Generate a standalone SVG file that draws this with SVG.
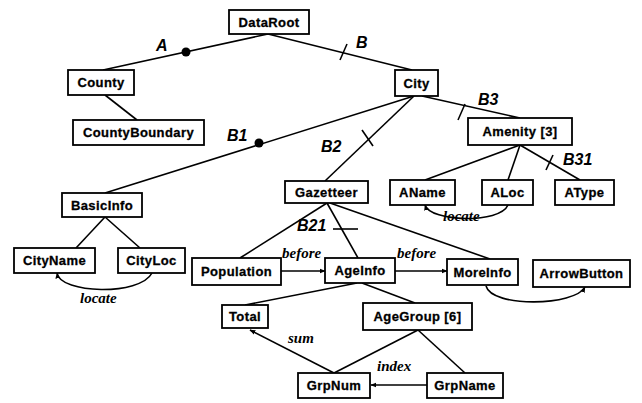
<svg xmlns="http://www.w3.org/2000/svg" width="642" height="403" viewBox="0 0 642 403">
<style>
.box{fill:#fff;stroke:#000;stroke-width:1.8}
.nt{font-family:"Liberation Sans",Arial,sans-serif;font-weight:bold;font-size:13px;letter-spacing:0.4px;text-anchor:middle;fill:#000;stroke:#000;stroke-width:0.3}
.ln{fill:none;stroke:#000;stroke-width:1.6}
.lbl{font-family:"Liberation Sans",Arial,sans-serif;font-weight:bold;font-style:italic;font-size:16px;fill:#000}
.rel{font-family:"Liberation Serif","Times New Roman",serif;font-weight:bold;font-style:italic;font-size:15px;fill:#000}
</style>
<defs>
<marker id="ah" viewBox="0 0 10 10" refX="9" refY="5" markerWidth="6" markerHeight="6" orient="auto-start-reverse" markerUnits="userSpaceOnUse">
<path d="M0,1 L10,5 L0,9 z" fill="#000"/>
</marker>
</defs>
<rect width="642" height="403" fill="#fff"/>
<g id="connectors">
<line class="ln" x1="268" y1="34" x2="103" y2="70"/>
<circle cx="186" cy="52" r="4.5" fill="#000"/>
<line class="ln" x1="268" y1="34" x2="412" y2="70"/>
<line class="ln" x1="340" y1="60" x2="347" y2="44"/>
<line class="ln" x1="105" y1="95" x2="137" y2="120"/>
<line class="ln" x1="414" y1="96" x2="105" y2="193"/>
<circle cx="259" cy="143" r="4.5" fill="#000"/>
<line class="ln" x1="414" y1="96" x2="325" y2="181"/>
<line class="ln" x1="362" y1="130" x2="373" y2="146"/>
<line class="ln" x1="422" y1="96" x2="520" y2="118"/>
<line class="ln" x1="458" y1="120" x2="465" y2="104"/>
<line class="ln" x1="520" y1="145" x2="425" y2="180"/>
<line class="ln" x1="520" y1="145" x2="508" y2="180"/>
<line class="ln" x1="520" y1="145" x2="580" y2="180"/>
<line class="ln" x1="546" y1="170" x2="553" y2="155"/>
<line class="ln" x1="105" y1="217" x2="76" y2="248"/>
<line class="ln" x1="105" y1="217" x2="140" y2="248"/>
<path class="ln" d="M57,273 C60,294 140,296 152,273" marker-start="url(#ah)"/>
<path class="ln" d="M425,205 C430,222 500,224 508,205" marker-start="url(#ah)"/>
<line class="ln" x1="327" y1="203" x2="240" y2="258"/>
<line class="ln" x1="327" y1="203" x2="358" y2="258"/>
<line class="ln" x1="333" y1="229" x2="358" y2="229"/>
<line class="ln" x1="330" y1="203" x2="490" y2="259"/>
<line class="ln" x1="281" y1="271" x2="325" y2="271" marker-end="url(#ah)"/>
<line class="ln" x1="395" y1="271" x2="447" y2="271" marker-end="url(#ah)"/>
<path class="ln" d="M486,286 C492,308 575,306 585,287" stroke-width="2.2" marker-end="url(#ah)"/>
<line class="ln" x1="357" y1="283" x2="245" y2="305"/>
<line class="ln" x1="362" y1="283" x2="415" y2="303"/>
<line class="ln" x1="418" y1="330" x2="334" y2="373"/>
<line class="ln" x1="418" y1="330" x2="465" y2="373"/>
<line class="ln" x1="334" y1="373" x2="250" y2="330" stroke-width="2" marker-end="url(#ah)"/>
<line class="ln" x1="427" y1="385" x2="371" y2="385" marker-end="url(#ah)"/>
</g>
<g id="edge-labels">
<text class="lbl" x="156" y="51">A</text>
<text class="lbl" x="356" y="48">B</text>
<text class="lbl" x="227" y="141">B1</text>
<text class="lbl" x="321" y="152">B2</text>
<text class="lbl" x="478" y="105">B3</text>
<text class="lbl" x="563" y="165">B31</text>
<text class="lbl" x="297" y="231">B21</text>
<text class="rel" x="80" y="303">locate</text>
<text class="rel" x="443" y="221">locate</text>
<text class="rel" x="282" y="258">before</text>
<text class="rel" x="397" y="258">before</text>
<text class="rel" x="288" y="343">sum</text>
<text class="rel" x="377" y="371">index</text>
</g>
<g id="DataRoot"><rect class="box" x="229" y="10" width="80" height="24"/><text class="nt" x="269" y="27">DataRoot</text></g>
<g id="County"><rect class="box" x="68" y="70" width="66" height="25"/><text class="nt" x="101" y="87">County</text></g>
<g id="CountyBoundary"><rect class="box" x="73" y="120" width="131" height="25"/><text class="nt" x="138.5" y="137">CountyBoundary</text></g>
<g id="City"><rect class="box" x="395" y="70" width="43" height="26"/><text class="nt" x="416.5" y="88">City</text></g>
<g id="Amenity"><rect class="box" x="468" y="118" width="104" height="27"/><text class="nt" x="520" y="136">Amenity [3]</text></g>
<g id="BasicInfo"><rect class="box" x="62" y="193" width="80" height="24"/><text class="nt" x="102" y="210">BasicInfo</text></g>
<g id="Gazetteer"><rect class="box" x="285" y="181" width="83" height="22"/><text class="nt" x="326.5" y="197">Gazetteer</text></g>
<g id="AName"><rect class="box" x="390" y="180" width="65" height="25"/><text class="nt" x="422.5" y="197">AName</text></g>
<g id="ALoc"><rect class="box" x="482" y="180" width="51" height="25"/><text class="nt" x="507.5" y="197">ALoc</text></g>
<g id="AType"><rect class="box" x="555" y="180" width="59" height="25"/><text class="nt" x="584.5" y="197">AType</text></g>
<g id="CityName"><rect class="box" x="14" y="248" width="81" height="25"/><text class="nt" x="54.5" y="265">CityName</text></g>
<g id="CityLoc"><rect class="box" x="118" y="248" width="67" height="25"/><text class="nt" x="151.5" y="265">CityLoc</text></g>
<g id="Population"><rect class="box" x="192" y="258" width="89" height="27"/><text class="nt" x="236.5" y="276">Population</text></g>
<g id="AgeInfo"><rect class="box" x="325" y="258" width="70" height="25"/><text class="nt" x="360" y="275">AgeInfo</text></g>
<g id="MoreInfo"><rect class="box" x="447" y="259" width="71" height="26"/><text class="nt" x="482.5" y="276.5">MoreInfo</text></g>
<g id="ArrowButton"><rect class="box" x="533" y="260" width="97" height="27"/><text class="nt" x="581.5" y="278">ArrowButton</text></g>
<g id="Total"><rect class="box" x="222" y="305" width="46" height="23"/><text class="nt" x="245" y="321">Total</text></g>
<g id="AgeGroup"><rect class="box" x="363" y="303" width="109" height="27"/><text class="nt" x="417.5" y="321">AgeGroup [6]</text></g>
<g id="GrpNum"><rect class="box" x="298" y="373" width="72" height="25"/><text class="nt" x="334" y="390">GrpNum</text></g>
<g id="GrpName"><rect class="box" x="427" y="373" width="76" height="25"/><text class="nt" x="465" y="390">GrpName</text></g>
</svg>
